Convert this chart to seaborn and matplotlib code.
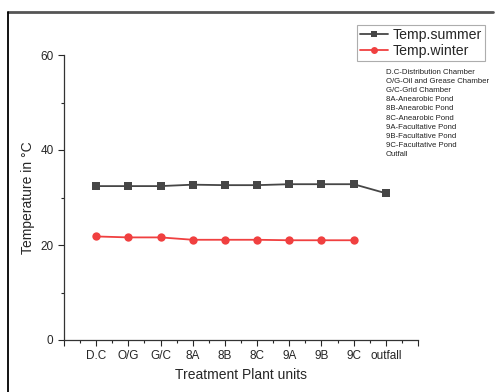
import numpy as np
import pandas as pd
import seaborn as sns
import matplotlib.pyplot as plt
from matplotlib.lines import Line2D

# valori
unita = ["D.C", "O/G", "G/C", "8A", "8B", "8C", "9A", "9B", "9C", "outfall"]
temp_summer = [32.4, 32.4, 32.4, 32.7, 32.6, 32.6, 32.8, 32.8, 32.8, 30.9]
temp_winter = [21.8, 21.6, 21.6, 21.1, 21.1, 21.1, 21.0, 21.0, 21.0, np.nan]
legenda_unita = ["D.C-Distribution Chamber", "O/G-Oil and Grease Chamber",
                 "G/C-Grid Chamber", "8A-Anearobic Pond", "8B-Anearobic Pond",
                 "8C-Anearobic Pond", "9A-Facultative Pond", "9B-Facultative Pond",
                 "9C-Facultative Pond", "Outfall"]

sns.set_style("ticks")
plt.rcParams["font.family"] = ["Liberation Sans", "DejaVu Sans"]

pos = np.arange(1, len(unita) + 1)
df = pd.DataFrame({"pos": np.concatenate([pos, pos]),
                   "temp": temp_summer + temp_winter,
                   "serie": ["Temp.summer"] * len(unita) + ["Temp.winter"] * len(unita)})

fig = plt.figure(figsize=(4.95, 3.92), dpi=100)
ax = fig.add_axes([64/495, 52/392, 354/495, 285/392])

colori = {"Temp.summer": "#464646", "Temp.winter": "#F04040"}
for nome, marker in [("Temp.summer", "s"), ("Temp.winter", "o")]:
    sub = df[df["serie"] == nome].dropna()
    sns.lineplot(data=sub, x="pos", y="temp", ax=ax, color=colori[nome],
                 marker=marker, markersize=6, markeredgewidth=0, linewidth=1.3,
                 label=nome, legend=False)

ax.set_xlim(0, 11)
ax.set_ylim(0, 60)
ax.set_xticks(np.arange(0, 12))
ax.set_xticklabels([""] + unita + [""], fontsize=8.5)
ax.set_xticks(np.arange(0.5, 11, 1), minor=True)
ax.set_yticks([0, 20, 40, 60])
ax.set_yticks([10, 30, 50], minor=True)
ax.tick_params(axis="y", labelsize=8.5)
ax.tick_params(which="major", length=4, width=0.8, direction="out")
ax.tick_params(which="minor", length=2.5, width=0.8, direction="out")
ax.set_xlabel("Treatment Plant units", fontsize=10)
ax.set_ylabel("Temperature in °C", fontsize=10)
sns.despine(ax=ax)
for s in ["left", "bottom"]:
    ax.spines[s].set_color("#333333")
    ax.spines[s].set_linewidth(0.9)

handles = [Line2D([], [], color=colori["Temp.summer"], marker="s", markersize=4.5, markeredgewidth=0, lw=1.3),
           Line2D([], [], color=colori["Temp.winter"], marker="o", markersize=5, markeredgewidth=0, lw=1.3)]
leg = fig.legend(handles, ["Temp.summer", "Temp.winter"], loc="upper left",
                 bbox_to_anchor=(357/495, 1 - 25/392), fontsize=10.2, fancybox=False,
                 frameon=True, borderpad=0.2, labelspacing=0.15, handlelength=2.0,
                 handletextpad=0.3, borderaxespad=0)
leg.get_frame().set_edgecolor("#999999")
leg.get_frame().set_linewidth(0.8)

fig.text(386/495, 1 - 69/392, "\n".join(legenda_unita), fontsize=5.6,
         va="top", ha="left", linespacing=1.42, color="#222222")

# cornice della figura
fig.add_artist(Line2D([8/495, 493/495], [1 - 12/392, 1 - 12/392], color="#555555", lw=2))
fig.add_artist(Line2D([8/495, 8/495], [0, 1 - 12/392], color="black", lw=1.3))

fig.savefig("out.png", dpi=100)
